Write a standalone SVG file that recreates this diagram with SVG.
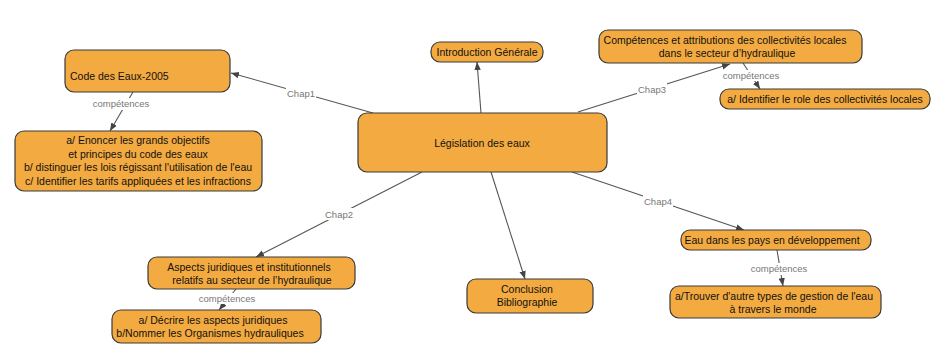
<svg xmlns="http://www.w3.org/2000/svg" width="945" height="358" viewBox="0 0 945 358">
<style>
.node rect{fill:#f3aa40;stroke:#3a3a3a;stroke-width:1.2}
.node text{font-family:"Liberation Sans",Arial,sans-serif;font-size:10.5px;fill:#111;text-anchor:middle}
.conn line{stroke:#555;stroke-width:1.1;fill:none}
.lbl rect{fill:#fff}
.lbl text{font-family:"Liberation Sans",Arial,sans-serif;font-size:9.5px;fill:#777;text-anchor:middle}
</style>
<defs>
<marker id="arr" viewBox="0 0 10 10" refX="10" refY="5" markerWidth="8" markerHeight="8" markerUnits="userSpaceOnUse" orient="auto">
<path d="M0,1 L10,5 L0,9 Z" fill="#444"/>
</marker>
</defs>
<rect width="945" height="358" fill="#fff"/>
<g id="connectors" class="conn">
<line x1="373" y1="113" x2="231" y2="73" marker-end="url(#arr)"/>
<line x1="578" y1="112" x2="730" y2="64" marker-end="url(#arr)"/>
<line x1="422" y1="172" x2="256" y2="257" marker-end="url(#arr)"/>
<line x1="572" y1="172" x2="744" y2="230" marker-end="url(#arr)"/>
<line x1="481" y1="113" x2="477" y2="62" marker-end="url(#arr)"/>
<line x1="491" y1="172" x2="525" y2="279" marker-end="url(#arr)"/>
<line x1="133" y1="92" x2="110" y2="131" marker-end="url(#arr)"/>
<line x1="743" y1="63" x2="760" y2="89" marker-end="url(#arr)"/>
<line x1="236" y1="289" x2="219" y2="310" marker-end="url(#arr)"/>
<line x1="777" y1="250" x2="783" y2="286" marker-end="url(#arr)"/>
<g class="lbl">
<rect x="286" y="87" width="30" height="12"/><text x="301" y="97">Chap1</text>
<rect x="637" y="83" width="30" height="12"/><text x="652" y="93">Chap3</text>
<rect x="324" y="208" width="30" height="12"/><text x="339" y="218">Chap2</text>
<rect x="643" y="195" width="30" height="12"/><text x="658" y="205">Chap4</text>
<rect x="92" y="98" width="58" height="12"/><text x="121" y="107">compétences</text>
<rect x="722" y="70" width="58" height="11"/><text x="751" y="79">compétences</text>
<rect x="198" y="293" width="58" height="11"/><text x="227" y="302">compétences</text>
<rect x="750" y="263" width="58" height="12"/><text x="779" y="272">compétences</text>
</g>
</g>
<g id="n-code" class="node"><rect x="65" y="50" width="165" height="42" rx="9"/><text x="70" y="80" style="text-anchor:start">Code des Eaux-2005</text></g>
<g id="n-code-comp" class="node"><rect x="15" y="131" width="247" height="60" rx="9"/>
<text x="138" y="144">a/ Enoncer les grands objectifs</text>
<text x="138" y="157.5">et principes du code des eaux</text>
<text x="138" y="171">b/ distinguer les lois régissant l'utilisation de l'eau</text>
<text x="138" y="184.5">c/ Identifier les tarifs appliquées et les infractions</text></g>
<g id="n-central" class="node"><rect x="358" y="113" width="249" height="59" rx="9"/><text x="482" y="147">Législation des eaux</text></g>
<g id="n-intro" class="node"><rect x="431" y="42" width="112" height="20" rx="9"/><text x="487" y="56">Introduction Générale</text></g>
<g id="n-chap3" class="node"><rect x="599" y="30" width="263" height="33" rx="9"/>
<text x="725" y="44">Compétences et attributions des collectivités locales</text>
<text x="727" y="57">dans le secteur d’hydraulique</text></g>
<g id="n-chap3-comp" class="node"><rect x="720" y="89" width="210" height="20" rx="9"/><text x="825" y="103">a/ Identifier le role des collectivités locales</text></g>
<g id="n-chap2" class="node"><rect x="148" y="257" width="207" height="32" rx="9"/>
<text x="249" y="271">Aspects juridiques et institutionnels</text>
<text x="252" y="283.5">relatifs au secteur de l’hydraulique</text></g>
<g id="n-chap2-comp" class="node"><rect x="112" y="310" width="209" height="33" rx="9"/>
<text x="213" y="324">a/ Décrire les aspects juridiques</text>
<text x="210" y="337">b/Nommer les Organismes hydrauliques</text></g>
<g id="n-concl" class="node"><rect x="467" y="279" width="126" height="34" rx="9"/>
<text x="527" y="293">Conclusion</text>
<text x="527" y="306">Bibliographie</text></g>
<g id="n-chap4" class="node"><rect x="681" y="230" width="190" height="20" rx="9"/><text x="772" y="243.5">Eau dans les pays en développement</text></g>
<g id="n-chap4-comp" class="node"><rect x="670" y="286" width="211" height="32" rx="9"/>
<text x="774" y="300">a/Trouver d'autre types de gestion de l'eau</text>
<text x="773" y="312.5">à travers le monde</text></g>
</svg>
